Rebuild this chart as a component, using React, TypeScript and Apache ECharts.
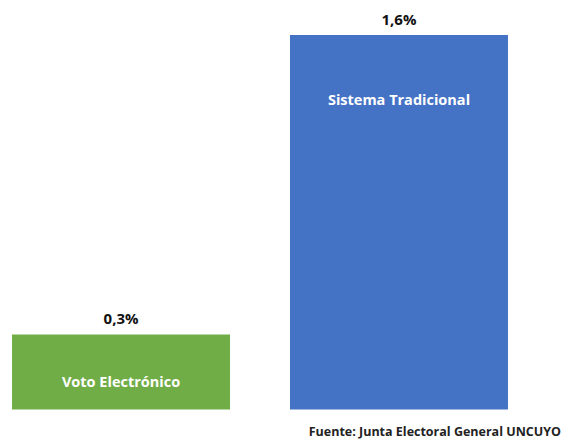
import React, { useEffect, useRef } from "react";
import * as echarts from "echarts";

const categories = ["Voto Electrónico", "Sistema Tradicional"];
const values = [0.32, 1.6];
const colors = ["#70AD47", "#4472C4"];
const nameLabelOffsets = [39, 57];
const sourceText = "Fuente: Junta Electoral General UNCUYO";

export default function App() {
  const ref = useRef<HTMLDivElement>(null);
  useEffect(() => {
    const chart = echarts.init(ref.current!, null, { renderer: "svg" });
    const font = "'Open Sans', 'Noto Sans', sans-serif";
    const series: any[] = [];
    categories.forEach((name, i) => {
      series.push({
        type: "bar",
        name,
        xAxisIndex: 0,
        barWidth: 218,
        barGap: "27.5%",
        data: [{ value: values[i], name }],
        itemStyle: { color: colors[i] },
        label: {
          show: true,
          position: "top",
          distance: 9,
          color: "#111",
          fontFamily: font,
          fontWeight: "bold",
          fontSize: 15,
          formatter: (p: any) => p.value.toFixed(1).replace(".", ",") + "%",
        },
      });
    });
    categories.forEach((name, i) => {
      series.push({
        type: "bar",
        name: name + " ",
        xAxisIndex: 1,
        barWidth: 218,
        barGap: "27.5%",
        silent: true,
        data: [{ value: values[i], name }],
        itemStyle: { color: "rgba(0,0,0,0)" },
        label: {
          show: true,
          position: "insideTop",
          distance: nameLabelOffsets[i],
          color: "#ffffff",
          fontFamily: font,
          fontWeight: "bold",
          fontSize: 14.5,
          formatter: (p: any) => p.data.name,
        },
      });
    });
    chart.setOption({
      animation: false,
      backgroundColor: "#ffffff",
      grid: { left: 12, right: 55, top: 35, bottom: 34.5, containLabel: false },
      xAxis: [
        { type: "category", data: ["x"], show: false },
        { type: "category", data: ["x"], show: false },
      ],
      yAxis: { type: "value", min: 0, max: 1.6, show: false },
      series,
      graphic: [
        {
          type: "text",
          right: 2,
          top: 425,
          style: {
            text: sourceText,
            fill: "#222",
            font: `bold 12.5px ${font}`,
          },
        },
      ],
    });
    return () => chart.dispose();
  }, []);
  return <div ref={ref} style={{ width: 563, height: 444, position: "absolute", left: 0, top: 0 }} />;
}
